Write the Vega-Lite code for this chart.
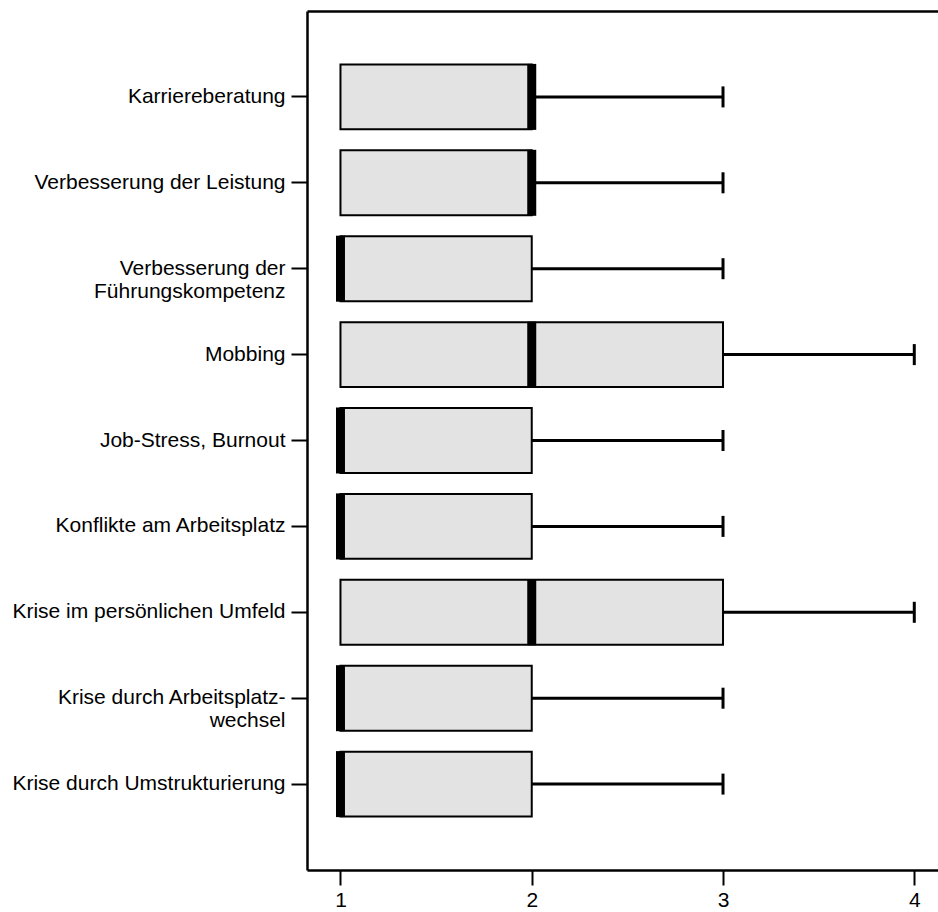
{
  "$schema": "https://vega.github.io/schema/vega-lite/v6.json",
  "width": 631,
  "height": 859,
  "autosize": {"type": "none"},
  "padding": {"left": 307, "top": 11, "right": 0, "bottom": 42},
  "background": "white",
  "config": {
    "view": {"stroke": null},
    "font": "Liberation Sans",
    "axis": {
      "grid": false,
      "title": null,
      "domainColor": "black",
      "domainWidth": 2.5,
      "tickColor": "black",
      "tickWidth": 2,
      "labelColor": "black",
      "labelFont": "Liberation Sans",
      "labelFontSize": 21
    }
  },
  "data": {
    "values": [
      {"item": "Karriereberatung", "min": 1, "q1": 1, "median": 2, "q3": 2, "max": 3},
      {"item": "Verbesserung der Leistung\u00a0", "min": 1, "q1": 1, "median": 2, "q3": 2, "max": 3},
      {"item": "Verbesserung der|Führungskompetenz", "min": 1, "q1": 1, "median": 1, "q3": 2, "max": 3},
      {"item": "Mobbing", "min": 1, "q1": 1, "median": 2, "q3": 3, "max": 4},
      {"item": "Job-Stress, Burnout\u00a0", "min": 1, "q1": 1, "median": 1, "q3": 2, "max": 3},
      {"item": "Konflikte am Arbeitsplatz", "min": 1, "q1": 1, "median": 1, "q3": 2, "max": 3},
      {"item": "Krise im persönlichen Umfeld", "min": 1, "q1": 1, "median": 2, "q3": 3, "max": 4},
      {"item": "Krise durch Arbeitsplatz-|wechsel", "min": 1, "q1": 1, "median": 1, "q3": 2, "max": 3},
      {"item": "Krise durch Umstrukturierung", "min": 1, "q1": 1, "median": 1, "q3": 2, "max": 3}
    ]
  },
  "encoding": {
    "y": {
      "field": "item",
      "type": "nominal",
      "sort": null,
      "scale": {"paddingInner": 0.244, "paddingOuter": 0.622},
      "axis": {
        "orient": "left",
        "tickSize": 16,
        "labelPadding": 6,
        "labelLimit": 400,
        "labelLineHeight": 23,
        "labelExpr": "split(datum.label, '|')"
      }
    }
  },
  "layer": [
    {
      "mark": {"type": "rule", "color": "black", "strokeWidth": 3},
      "encoding": {
        "x": {
          "field": "q3",
          "type": "quantitative",
          "scale": {"domain": [0.825, 4.124], "nice": false, "zero": false},
          "axis": {
            "orient": "bottom",
            "values": [1, 2, 3, 4],
            "format": "d",
            "tickSize": 15,
            "labelPadding": 4
          }
        },
        "x2": {"field": "max"}
      }
    },
    {
      "mark": {"type": "tick", "orient": "vertical", "color": "black", "size": 21, "thickness": 3, "opacity": 1},
      "encoding": {"x": {"field": "max", "type": "quantitative", "axis": null}}
    },
    {
      "mark": {"type": "bar", "fill": "#e3e3e3", "stroke": "black", "strokeWidth": 2},
      "encoding": {
        "x": {"field": "q1", "type": "quantitative", "axis": null},
        "x2": {"field": "q3"}
      }
    },
    {
      "mark": {"type": "tick", "orient": "vertical", "color": "black", "size": 66, "thickness": 9, "opacity": 1},
      "encoding": {"x": {"field": "median", "type": "quantitative", "axis": null}}
    },
    {
      "mark": {"type": "tick", "opacity": 0},
      "encoding": {
        "x": {
          "field": "min",
          "type": "quantitative",
          "axis": {
            "orient": "top",
            "values": [],
            "labels": false,
            "ticks": false,
            "domain": true
          }
        }
      }
    }
  ],
  "resolve": {"axis": {"x": "independent"}}
}
